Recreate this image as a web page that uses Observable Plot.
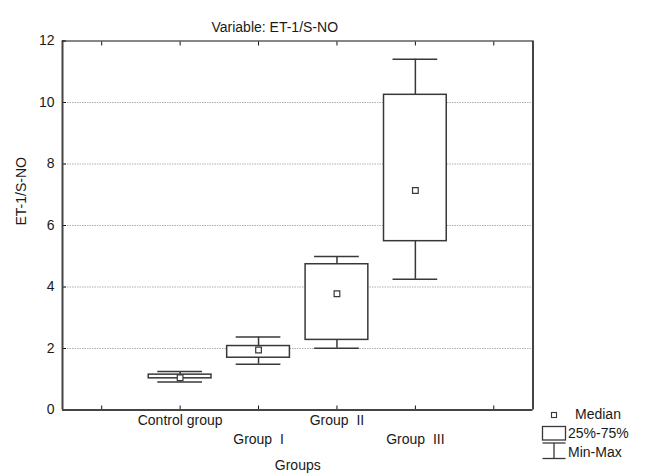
<!DOCTYPE html>
<html><head><meta charset="utf-8">
<script src="https://cdn.jsdelivr.net/npm/d3@7"></script>
<script src="https://cdn.jsdelivr.net/npm/@observablehq/plot@0.6"></script>
<style>body{margin:0;background:#fff} svg text{white-space:pre}</style>
</head><body><div id="chart"></div>
<script>
const groups = ["Control group", "Group  I", "Group  II", "Group  III"];
const minVals = [0.91, 1.49, 2.01, 4.25];
const q1Vals  = [1.03, 1.70, 2.28, 5.49];
const medVals = [1.05, 1.95, 3.78, 7.14];
const q3Vals  = [1.15, 2.08, 4.74, 10.25];
const maxVals = [1.25, 2.37, 4.99, 11.41];
const yTicks = [0, 2, 4, 6, 8, 10, 12];
const gridValues = [2, 4, 6, 8, 10];
const xTicks = [0, 1, 2, 3, 4, 5];
const xDomain = [-0.5, 5.5];
const yDomain = [0, 12];
const title = "Variable: ET-1/S-NO";
const yLabel = "ET-1/S-NO";
const xLabel = "Groups";
const legendLabels = ["Median", "25%-75%", "Min-Max"];

const data = groups.map((g, i) => ({
  group: g, pos: i + 1, min: minVals[i], q1: q1Vals[i], med: medVals[i], q3: q3Vals[i], max: maxVals[i]
}));

const ink = "#383838";
const boxHalf = 0.4, capHalf = 0.285;

const svg = Plot.plot({
  width: 646, height: 476,
  marginLeft: 62, marginRight: 113.5, marginTop: 40.5, marginBottom: 66.5,
  style: {fontSize: "14px", fontFamily: "'Liberation Sans', Arial, sans-serif", background: "white", color: "#1a1a1a"},
  x: {domain: xDomain},
  y: {domain: yDomain},
  marks: [
    Plot.gridY(gridValues, {stroke: "#b0b0b0", strokeOpacity: 1, strokeDasharray: "1.5,1"}),
    Plot.ruleX(data, {x: "pos", y1: "min", y2: "max", stroke: ink, strokeWidth: 1.5}),
    Plot.ruleY(data, {y: "min", x1: d => d.pos - capHalf, x2: d => d.pos + capHalf, stroke: ink, strokeWidth: 1.5}),
    Plot.ruleY(data, {y: "max", x1: d => d.pos - capHalf, x2: d => d.pos + capHalf, stroke: ink, strokeWidth: 1.5}),
    Plot.rect(data, {x1: d => d.pos - boxHalf, x2: d => d.pos + boxHalf, y1: "q1", y2: "q3", fill: "white", stroke: ink, strokeWidth: 1.5}),
    Plot.dot(data, {x: "pos", y: "med", symbol: "square", r: 3.2, fill: "white", stroke: ink, strokeWidth: 1.2}),
    Plot.axisY({ticks: yTicks, tickSize: -4, tickPadding: 12, label: null, stroke: "#111"}),
    Plot.axisX({anchor: "bottom", ticks: xTicks, tickSize: -4, tickFormat: () => "", label: null, stroke: "#111"}),
    Plot.axisX({anchor: "top", ticks: xTicks, tickSize: -4, tickFormat: () => "", label: null, stroke: "#111"}),
    Plot.ruleX(xDomain, {stroke: "#444", strokeWidth: 2}),
    Plot.ruleY([yDomain[0]], {stroke: "#444", strokeWidth: 2}),
    Plot.ruleY([yDomain[1]], {stroke: "#111", strokeWidth: 1.2}),
    Plot.text(data.filter((d, i) => i % 2 === 0), {x: "pos", text: "group", frameAnchor: "bottom", dy: 15}),
    Plot.text(data.filter((d, i) => i % 2 === 1), {x: "pos", text: "group", frameAnchor: "bottom", dy: 34}),
    Plot.text([xLabel], {text: d => d, frameAnchor: "bottom", dy: 60}),
    Plot.text([title], {text: d => d, frameAnchor: "top", dy: -18.5, dx: -23}),
    Plot.text([yLabel], {text: d => d, frameAnchor: "left", dx: -41, rotate: -90})
  ]
});

// Legend (bottom right, outside the plot frame)
const lg = d3.select(svg).append("g")
  .attr("fill", "none").attr("stroke", ink).attr("stroke-width", 1.3);
lg.append("rect").attr("x", 551.5).attr("y", 412.5).attr("width", 5).attr("height", 5).attr("fill", "white").attr("stroke-width", 1.1);
lg.append("rect").attr("x", 542.5).attr("y", 426.5).attr("width", 23).attr("height", 13.5).attr("fill", "white");
lg.append("line").attr("x1", 542.5).attr("x2", 565.5).attr("y1", 443).attr("y2", 443);
lg.append("line").attr("x1", 554).attr("x2", 554).attr("y1", 443).attr("y2", 458.5);
lg.append("line").attr("x1", 542.5).attr("x2", 565.5).attr("y1", 458.5).attr("y2", 458.5);
const lt = d3.select(svg).append("g").attr("fill", "#1a1a1a").attr("font-size", "14px").attr("text-anchor", "start");
const lx = [575, 568, 568], ly = [415, 433.5, 452.5];
legendLabels.forEach((t, i) => {
  lt.append("text").attr("x", lx[i]).attr("y", ly[i]).attr("dy", "0.32em").attr("text-anchor", "start").text(t);
});

document.getElementById("chart").appendChild(svg);
</script>
</body></html>
